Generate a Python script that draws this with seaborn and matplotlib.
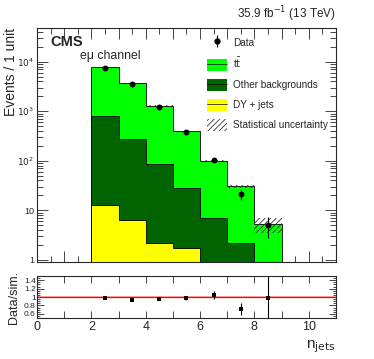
import numpy as np
import pandas as pd
import matplotlib
matplotlib.use("Agg")
import matplotlib.pyplot as plt
from matplotlib.ticker import FixedLocator, MultipleLocator, FuncFormatter, LogLocator, NullFormatter
from matplotlib.patches import Patch
from matplotlib.lines import Line2D
import seaborn as sns

# ---- data ----
bin_edges = [2, 3, 4, 5, 6, 7, 8, 9]
bin_centers = [2.5, 3.5, 4.5, 5.5, 6.5, 7.5, 8.5]
dy_jets = [13.0, 6.5, 2.2, 1.7, 0.0, 0.0, 0.0]
other_bkg = [777.0, 274.5, 85.8, 26.1, 7.1, 2.2, 0.0]
ttbar = [7073.0, 3455.5, 1212.2, 366.2, 93.9, 28.3, 5.2]
stat_unc = [60.0, 40.0, 22.0, 10.0, 3.0, 2.0, 1.7]
data_vals = [7600.0, 3480.0, 1200.0, 385.0, 105.0, 21.0, 5.0]
data_err = [87.0, 59.0, 35.0, 20.0, 10.0, 4.6, 2.2]
ratio_vals = [0.97, 0.93, 0.95, 0.98, 1.05, 0.72, 0.97]
ratio_err = [0.012, 0.017, 0.03, 0.05, 0.1, 0.15, 0.6]

sns.set_style("ticks")
plt.rcParams['font.family'] = ['Liberation Sans', 'DejaVu Sans']
plt.rcParams['hatch.linewidth'] = 0.6

fig = plt.figure(figsize=(3.74, 3.59), dpi=100)
ax = fig.add_axes([0.099, 0.27, 0.799, 0.652])
rax = fig.add_axes([0.099, 0.114, 0.799, 0.117])

c_tt = "#00ff00"
c_other = "#006400"
c_dy = "#ffff00"

dy = np.array(dy_jets)
oth = np.array(other_bkg)
tt = np.array(ttbar)
layers = [
    (dy + oth + tt, c_tt),
    (dy + oth, c_other),
    (dy, c_dy),
]
for vals, col in layers:
    df = pd.DataFrame({"x": bin_centers, "w": vals})
    sns.histplot(data=df, x="x", weights="w", bins=bin_edges, element="step",
                 fill=True, color=col, alpha=1.0, edgecolor="black", linewidth=0.6,
                 ax=ax)

total = dy + oth + tt
unc = np.array(stat_unc)
edges = np.array(bin_edges, dtype=float)
lo = np.append(total - unc, (total - unc)[-1])
hi = np.append(total + unc, (total + unc)[-1])
ax.fill_between(edges, lo, hi, step="post", facecolor="none", edgecolor="#333333",
                hatch="//////", linewidth=0)

ax.errorbar(bin_centers, data_vals, yerr=data_err, fmt="none", ecolor="black", elinewidth=0.8)
sns.scatterplot(x=bin_centers, y=data_vals, color="black", s=18, edgecolor="black",
                linewidth=0, ax=ax, zorder=5)

ax.set_yscale("log")
ax.set_xlim(0, 11)
ax.set_ylim(0.9, 4.8e4)
ax.set_xlabel("")
ax.set_ylabel("Events / 1 unit", fontsize=10, loc="top", labelpad=2)
ax.yaxis.set_label_coords(-0.062, 1.0)

def logfmt(v, pos):
    if v == 1:
        return "1"
    if v == 10:
        return "10"
    e = int(round(np.log10(v)))
    return r"$10^{%d}$" % e
ax.yaxis.set_major_locator(FixedLocator([1, 10, 100, 1000, 10000]))
ax.yaxis.set_major_formatter(FuncFormatter(logfmt))
ax.yaxis.set_minor_locator(LogLocator(base=10, subs=np.arange(2, 10)))
ax.yaxis.set_minor_formatter(NullFormatter())
ax.xaxis.set_major_locator(MultipleLocator(1))
ax.xaxis.set_minor_locator(MultipleLocator(0.5))
ax.tick_params(axis="both", which="both", direction="in", top=True, right=True,
               labelsize=6.5, width=0.6)
ax.tick_params(axis="x", which="major", length=8, labelbottom=False)
ax.tick_params(axis="x", which="minor", length=4)
ax.tick_params(axis="y", which="major", length=8, pad=2)
ax.tick_params(axis="y", which="minor", length=4)
for s in ax.spines.values():
    s.set_linewidth(0.8)

ax.text(0.045, 0.97, "CMS", transform=ax.transAxes, fontsize=10.5, fontweight="bold",
        va="top", ha="left")
ax.text(0.143, 0.905, "eμ channel", transform=ax.transAxes, fontsize=8.8,
        va="top", ha="left")
ax.text(1.0, 1.015, r"35.9 fb$^{-1}$ (13 TeV)", transform=ax.transAxes, fontsize=8.5,
        va="bottom", ha="right")

hline = Line2D([0], [0], color="black", linewidth=0.5)
handles = [
    (Line2D([0], [0], marker="|", color="black", markersize=9, markeredgewidth=0.8, linestyle="none"),
     Line2D([0], [0], marker="o", color="black", markersize=3.5, linestyle="none")),
    (Patch(facecolor=c_tt, edgecolor="none"), hline),
    (Patch(facecolor=c_other, edgecolor="none"), hline),
    (Patch(facecolor=c_dy, edgecolor="none"), hline),
    Patch(facecolor="white", edgecolor="#333333", hatch="//////", linewidth=0),
]
labels = ["Data", r"t$\bar{\rm t}$", "Other backgrounds", "DY + jets", "Statistical uncertainty"]
leg = ax.legend(handles, labels, loc="upper left", bbox_to_anchor=(0.545, 0.995),
                frameon=False, fontsize=7.2, handlelength=2.0, handleheight=1.5,
                labelspacing=0.78, borderpad=0.2, handletextpad=0.6)

# ratio panel
rax.axhspan(0.985, 1.015, color="#ffb0b0", linewidth=0)
rax.axhline(1.0, color="red", linewidth=0.9)
rax.errorbar(bin_centers, ratio_vals, yerr=ratio_err, fmt="none", ecolor="black", elinewidth=0.8)
sns.scatterplot(x=bin_centers, y=ratio_vals, color="black", marker="s", s=6,
                linewidth=0, ax=rax, zorder=5)
rax.set_xlim(0, 11)
rax.set_ylim(0.5, 1.5)
rax.yaxis.set_major_locator(FixedLocator([0.6, 0.8, 1.0, 1.2, 1.4]))
rax.yaxis.set_major_formatter(FuncFormatter(lambda v, p: ("%g" % v)))
rax.yaxis.set_minor_locator(MultipleLocator(0.05))
rax.xaxis.set_major_locator(MultipleLocator(2))
rax.xaxis.set_minor_locator(MultipleLocator(1))
rax.xaxis.set_major_formatter(FuncFormatter(lambda v, p: "%d" % v))
rax.tick_params(axis="both", which="both", direction="in", top=True, right=True, width=0.6)
rax.tick_params(axis="x", which="major", length=5, labelsize=9, pad=2)
rax.tick_params(axis="x", which="minor", length=5)
rax.tick_params(axis="y", which="major", length=5, labelsize=6, pad=1)
rax.tick_params(axis="y", which="minor", length=2.5)
for s in rax.spines.values():
    s.set_linewidth(0.8)
rax.set_ylabel("Data/sim.", fontsize=9, labelpad=1)
rax.yaxis.set_label_coords(-0.058, 0.5)
rax.set_xlabel(r"n$_{\rm jets}$", fontsize=11, loc="right", labelpad=4)

fig.savefig("out.png", dpi=100)
